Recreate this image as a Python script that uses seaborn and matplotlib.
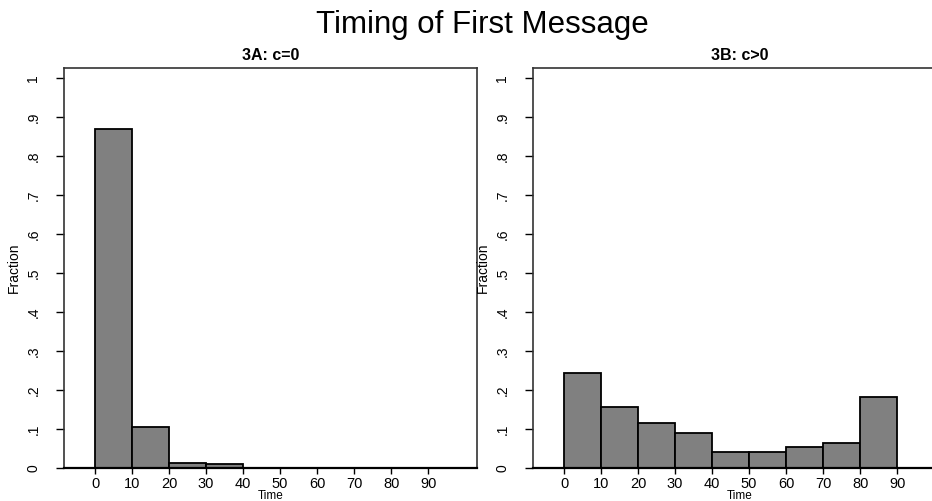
import numpy as np
import matplotlib
matplotlib.use("Agg")
import matplotlib.pyplot as plt
import seaborn as sns

# bin left edges (width 10) and fractions
bin_width = 10
starts_3a = [0, 10, 20, 30]
frac_3a = [0.869, 0.106, 0.014, 0.010]
starts_3b = [0, 10, 20, 30, 40, 50, 60, 70, 80]
frac_3b = [0.243, 0.156, 0.116, 0.089, 0.040, 0.040, 0.054, 0.065, 0.183]

xticks = [0, 10, 20, 30, 40, 50, 60, 70, 80, 90]
yticks = [0, .1, .2, .3, .4, .5, .6, .7, .8, .9, 1]
ytick_labels = ["0", ".1", ".2", ".3", ".4", ".5", ".6", ".7", ".8", ".9", "1"]

sns.set_style("ticks")
plt.rcParams["font.family"] = ["Liberation Sans", "DejaVu Sans"]
plt.rcParams["text.color"] = "black"
plt.rcParams["axes.labelcolor"] = "black"

W, H = 932, 501
fig = plt.figure(figsize=(W / 100, H / 100), dpi=100)

panels = [
    ("3A: c=0", starts_3a, frac_3a, 64),
    ("3B: c>0", starts_3b, frac_3b, 533),
]

for title, starts, fracs, left_px in panels:
    ax = fig.add_axes([left_px / W, (H - 468) / H, 413 / W, 400 / H])
    mids = [s + bin_width / 2 for s in starts]
    edges = list(starts) + [starts[-1] + bin_width]
    sns.histplot(x=mids, weights=fracs, bins=edges, stat="count",
                 color="#808080", edgecolor="black", linewidth=1.3,
                 alpha=1, ax=ax)
    ax.set_xlim(-8.4, 103.2)
    ax.set_ylim(0, 1.026)
    ax.set_xticks(xticks)
    ax.set_xticklabels([str(t) for t in xticks], fontsize=10.5)
    ax.set_yticks(yticks)
    ax.set_yticklabels(ytick_labels, fontsize=10, rotation=90, va="center")
    ax.tick_params(axis="y", length=6, width=1, pad=11, colors="black")
    ax.tick_params(axis="x", length=4.5, width=1, pad=2, colors="black")
    for name, sp in ax.spines.items():
        sp.set_visible(True)
        sp.set_color("#333333")
        sp.set_linewidth(1.2)
    ax.spines["bottom"].set_color("black")
    ax.spines["bottom"].set_linewidth(1.6)
    ax.set_xlabel("Time", fontsize=8.5, labelpad=-0.5)
    ax.set_ylabel("Fraction", fontsize=10, labelpad=4)
    ax.set_title(title, fontsize=11.5, fontweight="bold", pad=6)

fig.text(482 / W, 1 - 25 / H, "Timing of First Message", fontsize=22.5,
         ha="center", va="center")

fig.savefig("out.png", dpi=100)
